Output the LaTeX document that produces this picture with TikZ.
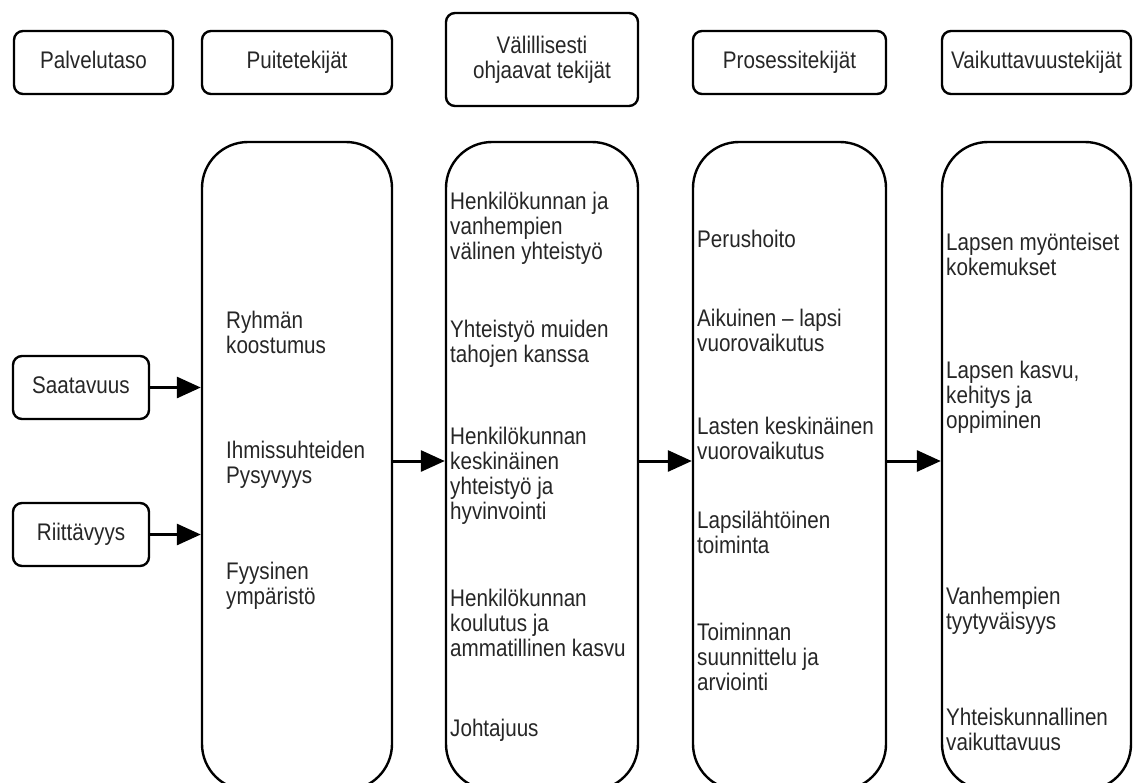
\documentclass[tikz,border=0pt]{standalone}
\usepackage{fontspec}
\setmainfont{Liberation Sans}[FakeStretch=0.86]
\usetikzlibrary{arrows.meta,calc}

\begin{document}
\begin{tikzpicture}[x=1pt, y=-1pt,
    every node/.style={font=\fontsize{24}{25}\selectfont, text=black!85},
    head/.style={draw, line width=2.4pt, rounded corners=9pt, inner sep=0pt, minimum height=63pt, text height=17pt, text depth=5pt},
    col/.style={draw, line width=2.4pt, rounded corners=46pt, inner sep=0pt, minimum width=190pt, minimum height=648pt},
    item/.style={anchor=west, align=left, inner sep=0pt},
    flow/.style={line width=3pt, -{Triangle[length=24pt, width=21pt]}}]

    %% Background
    \useasboundingbox (0,0) rectangle (1134,782);
    \clip (0,0) rectangle (1134,782);

    %% Headings
    \node[head, minimum width=159pt] (hPalvelu) at (93.5,62.5) {Palvelutaso};
    \node[head, minimum width=190pt] (hPuite) at (297,62.5) {Puitetekijät};
    \node[draw, line width=2.4pt, rounded corners=9pt, inner sep=0pt, align=center,
          minimum width=192pt, minimum height=93pt] (hValill) at (542,59.5) {Välillisesti\\ohjaavat tekijät};
    \node[head, minimum width=193pt] (hProsessi) at (789.5,62.5) {Prosessitekijät};
    \node[head, minimum width=189pt] (hVaikutt) at (1036.5,62.5) {Vaikuttavuustekijät};

    %% Columns
    \node[col] (cPuite) at (297,466) {};
    \node[col, minimum width=192pt] (cValill) at (542,466) {};
    \node[col, minimum width=193pt] (cProsessi) at (789.5,466) {};
    \node[col, minimum width=189pt] (cVaikutt) at (1036.5,466) {};

    %% Service level
    \node[head, minimum width=136pt] (saatavuus) at (81,387.5) {Saatavuus};
    \node[head, minimum width=136pt] (riittavyys) at (81,534.5) {Riittävyys};

    %% Items
    \node[item] (ryhma) at (226,332.5) {Ryhmän\\koostumus};
    \node[item] (pysyvyys) at (226,464.5) {Ihmissuhteiden\\Pysyvyys};
    \node[item] (fyysinen) at (226,585.5) {Fyysinen\\ympäristö};

    \node[item] (vanhemmat) at (450,228) {Henkilökunnan ja\\vanhempien\\välinen yhteistyö};
    \node[item] (muut) at (450,343.5) {Yhteistyö muiden\\tahojen kanssa};
    \node[item] (keskinainen) at (450,475.5) {Henkilökunnan\\keskinäinen\\yhteistyö ja\\hyvinvointi};
    \node[item] (koulutus) at (450,623) {Henkilökunnan\\koulutus ja\\ammatillinen kasvu};
    \node[item] (johtajuus) at (450,730) {Johtajuus};

    \node[item] (perushoito) at (697,239) {Perushoito};
    \node[item] (aikuinen) at (697,330.5) {Aikuinen – lapsi\\vuorovaikutus};
    \node[item] (lapset) at (697,438.5) {Lasten keskinäinen\\vuorovaikutus};
    \node[item] (lapsilahtoinen) at (697,532.5) {Lapsilähtöinen\\toiminta};
    \node[item] (suunnittelu) at (697,657) {Toiminnan\\suunnittelu ja\\arviointi};

    \node[item] (kokemukset) at (946,254.5) {Lapsen myönteiset\\kokemukset};
    \node[item] (kasvu) at (946,397) {Lapsen kasvu,\\kehitys ja\\oppiminen};
    \node[item] (tyytyvaisyys) at (946,610.5) {Vanhempien\\tyytyväisyys};
    \node[item] (yhteiskunta) at (946,729.5) {Yhteiskunnallinen\\vaikuttavuus};

    %% Arrows
    \coordinate (flowY) at (0,461);
    \draw[flow] (saatavuus) -- (saatavuus -| cPuite.west);
    \draw[flow] (riittavyys) -- (riittavyys -| cPuite.west);
    \draw[flow] (cPuite.east |- flowY) -- (cValill.west |- flowY);
    \draw[flow] (cValill.east |- flowY) -- (cProsessi.west |- flowY);
    \draw[flow] (cProsessi.east |- flowY) -- (cVaikutt.west |- flowY);

\end{tikzpicture}
\end{document}
